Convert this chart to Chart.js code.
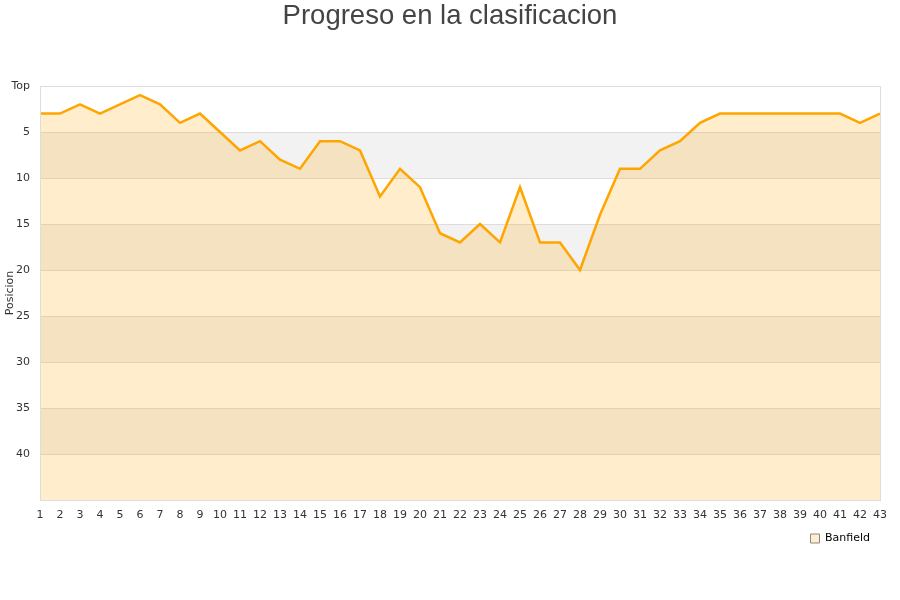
<!DOCTYPE html>
<html>
<head>
<meta charset="utf-8">
<script src="https://cdn.jsdelivr.net/npm/chart.js@4.4.0/dist/chart.umd.min.js"></script>
<style>
  html, body { margin: 0; padding: 0; background: #fff; }
  #wrap { width: 900px; height: 600px; }
</style>
</head>
<body>
<div id="wrap"><canvas id="chart"></canvas></div>
<script>
// Jornadas 1..43 and the team's league position after each one
const rounds = Array.from({ length: 43 }, (_, i) => String(i + 1));
const positions = [3, 3, 2, 3, 2, 1, 2, 4, 3, 5, 7, 6, 8, 9, 6, 6, 7, 12, 9, 11,
                   16, 17, 15, 17, 11, 17, 17, 20, 14, 9, 9, 7, 6, 4, 3, 3, 3, 3, 3, 3,
                   3, 4, 3];
const teamName = 'Banfield';

// alternating grey bands behind the plot (5-10, 15-20, ...)
const bandsPlugin = {
  id: 'bands',
  beforeDraw(chart) {
    const { ctx, chartArea, scales } = chart;
    const y = scales.y;
    ctx.save();
    ctx.fillStyle = '#f2f2f2';
    for (let v = 5; v < 45; v += 10) {
      const top = y.getPixelForValue(v);
      const bottom = y.getPixelForValue(v + 5);
      ctx.fillRect(chartArea.left, top, chartArea.right - chartArea.left, bottom - top);
    }
    ctx.restore();
  },
  afterDatasetsDraw(chart) {
    const { ctx, chartArea } = chart;
    ctx.save();
    ctx.strokeStyle = '#dddddd';
    ctx.lineWidth = 1;
    ctx.strokeRect(chartArea.left + 0.5, chartArea.top + 0.5,
      chartArea.right - chartArea.left, chartArea.bottom - chartArea.top);
    ctx.restore();
  }
};

const ctx = document.getElementById('chart').getContext('2d');
new Chart(ctx, {
  type: 'line',
  data: {
    labels: rounds,
    datasets: [{
      label: teamName,
      data: positions,
      borderColor: '#ffa500',
      backgroundColor: 'rgba(255, 165, 0, 0.2)',
      borderWidth: 2.5,
      fill: 'start',
      tension: 0,
      pointRadius: 0,
      pointHoverRadius: 0
    }]
  },
  options: {
    responsive: true,
    maintainAspectRatio: false,
    animation: false,
    layout: { padding: { left: 0, right: 0, top: 0, bottom: 46 } },
    plugins: {
      title: {
        display: true,
        text: 'Progreso en la clasificacion',
        color: '#444',
        font: { family: 'Liberation Sans, Arial, sans-serif', size: 27.5, weight: 'normal' },
        padding: { top: 0, bottom: 53 }
      },
      legend: {
        position: 'bottom',
        align: 'end',
        fullSize: false,
        labels: {
          color: '#000',
          font: { family: 'DejaVu Sans', size: 11 },
          boxWidth: 9,
          boxHeight: 9,
          padding: 10,
          generateLabels(chart) {
            return [{
              text: teamName,
              fillStyle: 'rgba(255, 165, 0, 0.2)',
              strokeStyle: '#888',
              lineWidth: 1,
              datasetIndex: 0
            }];
          }
        }
      },
      tooltip: { enabled: false }
    },
    scales: {
      x: {
        grid: { display: false },
        border: { display: false },
        ticks: {
          color: '#333',
          font: { family: 'DejaVu Sans', size: 11 },
          autoSkip: false,
          maxRotation: 0,
          padding: 1
        },
        afterFit(scale) { scale.height = 23; }
      },
      y: {
        reverse: true,
        min: 0,
        max: 45,
        grid: { color: '#dddddd', drawTicks: false },
        border: { display: false },
        title: {
          display: true,
          text: 'Posicion',
          color: '#333',
          font: { family: 'DejaVu Sans', size: 11 },
          padding: { top: 4, bottom: 0 }
        },
        ticks: {
          stepSize: 5,
          color: '#333',
          font: { family: 'DejaVu Sans', size: 11 },
          padding: 10,
          callback(value) {
            if (value === 0) return 'Top';
            if (value === 45) return '';
            return value;
          }
        },
        afterFit(scale) { scale.width = 40; }
      },
      // empty right-hand margin so the title stays centred on the page
      yRight: {
        position: 'right',
        min: 0,
        max: 45,
        grid: { display: false },
        border: { display: false },
        ticks: { display: false },
        afterFit(scale) { scale.width = 20; }
      }
    }
  },
  plugins: [bandsPlugin]
});
</script>
</body>
</html>
